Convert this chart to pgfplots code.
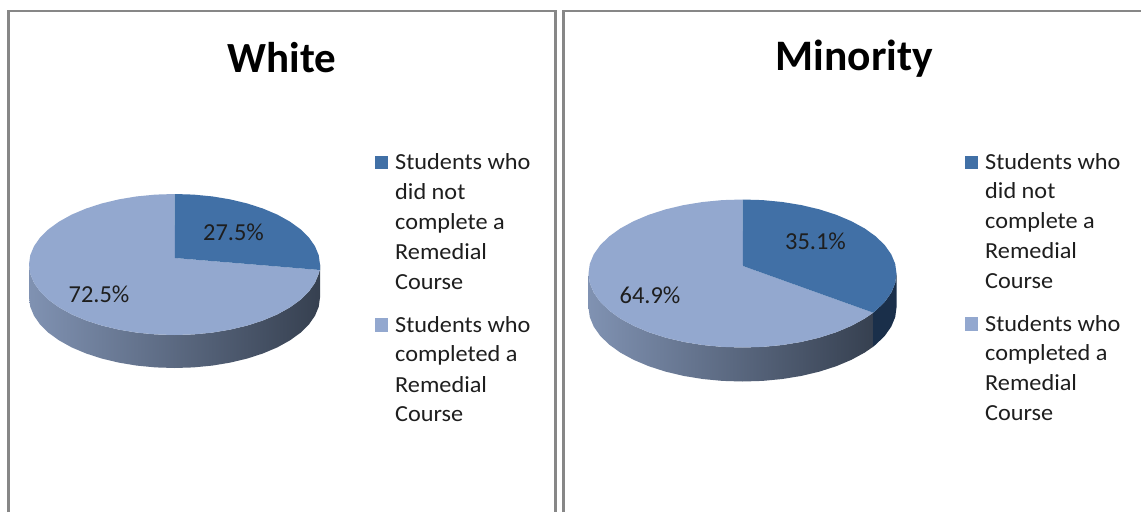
\documentclass[border=0pt]{standalone}
\usepackage{pgfplots}
\pgfplotsset{compat=1.18}
\usepackage{fontspec}
\setmainfont{Carlito}
\newcommand{\lgt}[1]{\scalebox{1.055}[1]{#1}}
\definecolor{darkslice}{RGB}{65,112,166}
\definecolor{lightslice}{RGB}{147,168,207}
\definecolor{frameg}{RGB}{135,135,135}
\definecolor{sidel}{RGB}{128,146,178}
\definecolor{sidem}{RGB}{78,92,116}
\definecolor{sider}{RGB}{54,64,80}
\definecolor{navy}{RGB}{26,47,74}
\definecolor{txt}{RGB}{30,30,30}
\begin{document}
\begin{tikzpicture}
\begin{axis}[scale only axis,width=1141pt,height=512pt,xmin=0,xmax=1141,ymin=0,ymax=512,y dir=reverse,hide axis,
 clip=true]
% page background
\addplot[fill=white,draw=none] coordinates {(0,0)(1141,0)(1141,512)(0,512)} -- cycle;
% frames
\addplot[frameg,line width=2.6pt] coordinates {(8.7,512)(8.7,11)(555.7,11)(555.7,512)};
\addplot[frameg,line width=2.6pt] coordinates {(563.5,512)(563.5,11)(1141,11)};
% White: side
\addplot[draw=none,left color=sidel,middle color=sidem,right color=sider] coordinates {
(29,264.5)(30.25,273.7)(34,282.75)(40.1,291.5)(48.5,299.75)(59.1,307.4)(71.6,314.35)(85.9,320.4)(101.75,325.55)(118.8,329.6)(136.8,332.6)(155.5,334.4)(174.5,335)(193.5,334.4)(212.2,332.6)(230.2,329.6)(247.25,325.55)(263.1,320.4)(277.4,314.35)(289.9,307.4)(300.5,299.75)(308.9,291.5)(315,282.75)(318.75,273.7)(320,264.5)
(320,297.5)(318.75,306.7)(315,315.75)(308.9,324.5)(300.5,332.75)(289.9,340.4)(277.4,347.35)(263.1,353.4)(247.25,358.55)(230.2,362.6)(212.2,365.6)(193.5,367.4)(174.5,368)(155.5,367.4)(136.8,365.6)(118.8,362.6)(101.75,358.55)(85.9,353.4)(71.6,347.35)(59.1,340.4)(48.5,332.75)(40.1,324.5)(34,315.75)(30.25,306.7)(29,297.5)} -- cycle;
% White: 72.5
\addplot[fill=lightslice,draw=none] coordinates {
(175,258)(320,270)(318.75,273.7)(315,282.75)(308.9,291.5)(300.5,299.75)(289.9,307.4)(277.4,314.35)(263.1,320.4)(247.25,325.55)(230.2,329.6)(212.2,332.6)(193.5,334.4)(174.5,335)(155.5,334.4)(136.8,332.6)(118.8,329.6)(101.75,325.55)(85.9,320.4)(71.6,314.35)(59.1,307.4)(48.5,299.75)(40.1,291.5)(34,282.75)(30.25,273.7)(29,264.5)(30.25,255.3)(34,246.25)(40.1,237.5)(48.5,229.25)(59.1,221.6)(71.6,214.65)(85.9,208.6)(101.75,203.45)(118.8,199.4)(136.8,196.4)(155.5,194.6)(174.5,194)} -- cycle;
% White: 27.5
\addplot[fill=darkslice,draw=none] coordinates {
(175,258)(174.5,194)(193.5,194.6)(212.2,196.4)(230.2,199.4)(247.25,203.45)(263.1,208.6)(277.4,214.65)(289.9,221.6)(300.5,229.25)(308.9,237.5)(315,246.25)(318.75,255.3)(320,264.5)(320,270)} -- cycle;
% Minority: side
\addplot[draw=none,left color=sidel,middle color=sidem,right color=sider] coordinates {
(588.5,273.5)(589.8,283.16)(593.75,292.65)(600.2,301.8)(609.1,310.5)(620.3,318.55)(633.6,325.8)(648.75,332.2)(665.5,337.6)(683.6,341.9)(702.6,345)(722.4,346.9)(742.5,347.5)(762.6,346.9)(782.4,345)(801.4,341.9)(819.5,337.6)(836.25,332.2)(851.4,325.8)(864.7,318.55)(873.2,312.7)
(873.2,346.7)(864.7,352.55)(851.4,359.8)(836.25,366.2)(819.5,371.6)(801.4,375.9)(782.4,379)(762.6,380.9)(742.5,381.5)(722.4,380.9)(702.6,379)(683.6,375.9)(665.5,371.6)(648.75,366.2)(633.6,359.8)(620.3,352.55)(609.1,344.5)(600.2,335.8)(593.75,326.65)(589.8,317.16)(588.5,307.5)} -- cycle;
\addplot[fill=navy,draw=none] coordinates {
(873.2,312.7)(875.9,310.5)(884.8,301.8)(891.25,292.65)(895.2,283.16)(896.5,273.5)(896.5,307.5)(895.2,317.16)(891.25,326.65)(884.8,335.8)(875.9,344.5)(873.2,346.7)} -- cycle;
% Minority: 64.9
\addplot[fill=lightslice,draw=none] coordinates {
(743,266)(873.2,312.7)(864.7,318.55)(851.4,325.8)(836.25,332.2)(819.5,337.6)(801.4,341.9)(782.4,345)(762.6,346.9)(742.5,347.5)(722.4,346.9)(702.6,345)(683.6,341.9)(665.5,337.6)(648.75,332.2)(633.6,325.8)(620.3,318.55)(609.1,310.5)(600.2,301.8)(593.75,292.65)(589.8,283.16)(588.5,273.5)(589.8,263.84)(593.75,254.35)(600.2,245.2)(609.1,236.5)(620.3,228.45)(633.6,221.2)(648.75,214.8)(665.5,209.4)(683.6,205.1)(702.6,202)(722.4,200.1)(742.5,199.5)} -- cycle;
% Minority: 35.1
\addplot[fill=darkslice,draw=none] coordinates {
(743,266)(742.5,199.5)(762.6,200.1)(782.4,202)(801.4,205.1)(819.5,209.4)(836.25,214.8)(851.4,221.2)(864.7,228.45)(875.9,236.5)(884.8,245.2)(891.25,254.35)(895.2,263.84)(896.5,273.5)(895.2,283.16)(891.25,292.65)(884.8,301.8)(875.9,310.5)(873.2,312.7)} -- cycle;
% legend swatches
\addplot[only marks,mark=square*,mark size=6.3pt,color=darkslice,mark options={fill=darkslice,draw=darkslice,line width=0pt}] coordinates {(381.3,162.3)(971.5,162.3)};
\addplot[only marks,mark=square*,mark size=6.3pt,color=lightslice,mark options={fill=lightslice,draw=lightslice,line width=0pt}] coordinates {(381.3,325)(971.5,324)};
% titles
\node[anchor=base,font=\bfseries\fontsize{43}{43}\selectfont,text=black] at (axis cs:282,72) {White};
\node[anchor=base,font=\bfseries\fontsize{43.5}{43.5}\selectfont,text=black] at (axis cs:854.5,70) {Minority};
% data labels
\tikzset{dl/.style={anchor=base,font=\fontsize{24.4}{24.4}\selectfont,text=txt,inner sep=0pt},
 lg/.style={anchor=base west,font=\fontsize{23}{23}\selectfont,text=txt,inner sep=0pt}}
\node[dl] at (axis cs:233.5,240) {27.5\%};
\node[dl] at (axis cs:99,302) {72.5\%};
\node[dl] at (axis cs:815.5,249) {35.1\%};
\node[dl] at (axis cs:650,303) {64.9\%};
% legend texts
\node[lg] at (axis cs:395,169) {\lgt{Students who}};
\node[lg] at (axis cs:395,199) {\lgt{did not}};
\node[lg] at (axis cs:395,229) {\lgt{complete a}};
\node[lg] at (axis cs:395,259) {\lgt{Remedial}};
\node[lg] at (axis cs:395,289) {\lgt{Course}};
\node[lg] at (axis cs:395,332) {\lgt{Students who}};
\node[lg] at (axis cs:395,361) {\lgt{completed a}};
\node[lg] at (axis cs:395,392) {\lgt{Remedial}};
\node[lg] at (axis cs:395,421) {\lgt{Course}};
\node[lg] at (axis cs:985,169) {\lgt{Students who}};
\node[lg] at (axis cs:985,198) {\lgt{did not}};
\node[lg] at (axis cs:985,228) {\lgt{complete a}};
\node[lg] at (axis cs:985,258) {\lgt{Remedial}};
\node[lg] at (axis cs:985,288) {\lgt{Course}};
\node[lg] at (axis cs:985,331) {\lgt{Students who}};
\node[lg] at (axis cs:985,360) {\lgt{completed a}};
\node[lg] at (axis cs:985,390) {\lgt{Remedial}};
\node[lg] at (axis cs:985,420) {\lgt{Course}};
\end{axis}
\end{tikzpicture}
\end{document}
